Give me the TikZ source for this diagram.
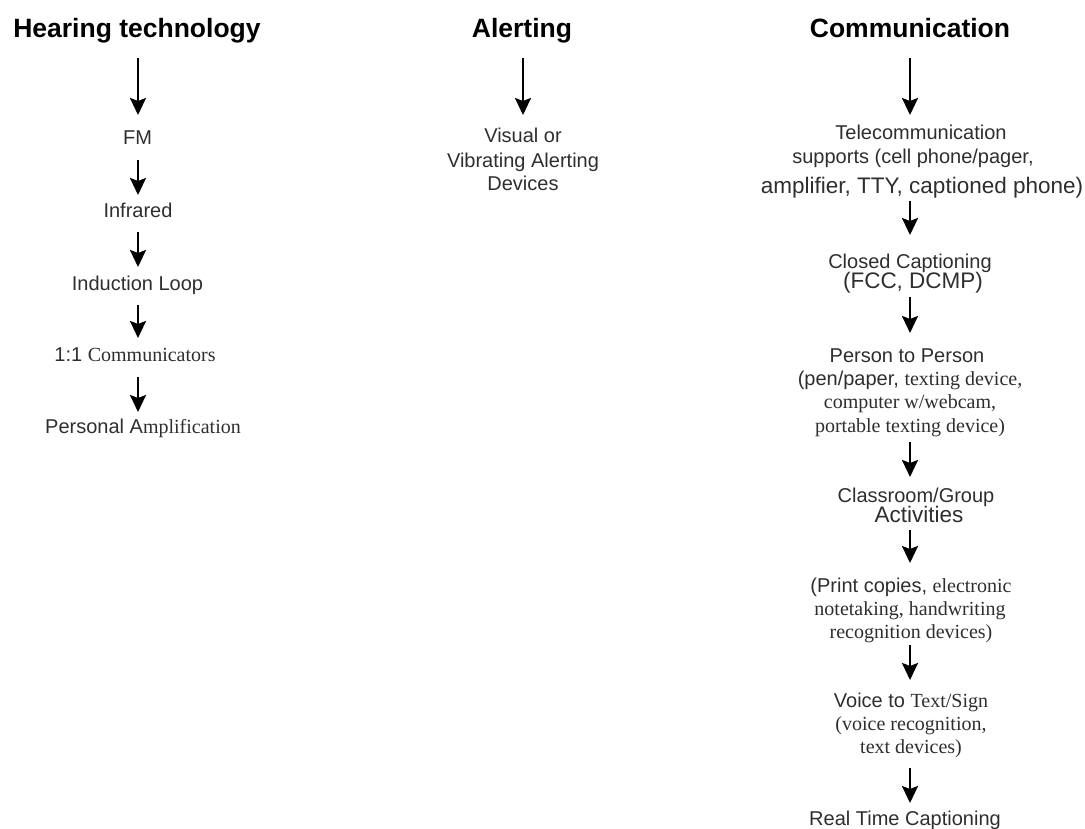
\documentclass[tikz,border=0pt]{standalone}
\usepackage{fontspec}
\setmainfont{Liberation Sans}
\newfontfamily\tms{Liberation Serif}
\usetikzlibrary{arrows.meta}
\definecolor{txt}{HTML}{2E2E2E}
\tikzset{
  ttl/.style={font=\bfseries\fontsize{26.5}{30}\selectfont, text=black, inner sep=0pt, anchor=base},
  lbl/.style={font=\fontsize{20}{24}\selectfont, text=txt, inner sep=0pt, anchor=base},
  big/.style={lbl, font=\fontsize{22.5}{26}\selectfont},
  flow/.style={draw=black, line width=2.4pt, -{Stealth[length=17pt,width=16pt,inset=3pt]}},
}
\begin{document}
\begin{tikzpicture}[x=1pt,y=-1pt]
\useasboundingbox (0,0) rectangle (1085,828);
\coordinate (L) at (138,0);
\coordinate (M) at (523,0);
\coordinate (R) at (910,0);
% left column
\node[ttl] (h0) at (137,37) {Hearing technology};
\node[lbl] (h1) at (137.5,144) {FM};
\node[lbl] (h2) at (138,217) {Infrared};
\node[lbl] (h3) at (137.5,290) {Induction Loop};
\node[lbl] (h4) at (135,361) {1:1 {\tms Communicators}};
\node[lbl] (h5) at (143,433) {Personal A{\tms mplification}};
% middle column
\node[ttl] (a0) at (522,37) {Alerting};
\node[lbl] (a1) at (523,142) {Visual or};
\node[lbl] (a2) at (523,167) {Vibrating Alerting};
\node[lbl] (a3) at (523,190) {Devices};
% right column
\node[ttl] (c0) at (910,37) {Communication};
\node[lbl] (c1a) at (921,139) {Telecommunication};
\node[lbl] (c1b) at (913,163) {supports (cell phone/pager,};
\node[big] (c1c) at (922,193) {amplifier, TTY, captioned phone)};
\node[lbl] (c2a) at (910,268) {Closed Captioning};
\node[big] (c2b) at (913,288) {(FCC, DCMP)};
\node[lbl] (c3a) at (907,362) {Person to Person};
\node[lbl] (c3b) at (910,385) {(pen/paper, {\tms texting device,}};
\node[lbl] (c3c) at (910,408) {\tms computer w/webcam,};
\node[lbl] (c3d) at (910,432) {\tms portable texting device)};
\node[lbl] (c4a) at (916,502) {Classroom/Group};
\node[big] (c4b) at (919,522) {Activities};
\node[lbl] (c5a) at (911,592) {(Print copies, {\tms electronic}};
\node[lbl] (c5b) at (910,615) {\tms notetaking, handwriting};
\node[lbl] (c5c) at (911,638) {\tms recognition devices)};
\node[lbl] (c6a) at (911,707) {Voice to {\tms Text/Sign}};
\node[lbl] (c6b) at (911,730) {\tms (voice recognition,};
\node[lbl] (c6c) at (911,753) {\tms text devices)};
\node[lbl] (c7) at (905,825) {Real Time Captioning};
% arrows left
\draw[flow] ([yshift=-21pt]h0.base -| L) -- ([yshift=29pt]h1.base -| L);
\draw[flow] ([yshift=-16pt]h1.base -| L) -- ([yshift=22pt]h2.base -| L);
\draw[flow] ([yshift=-15pt]h2.base -| L) -- ([yshift=23pt]h3.base -| L);
\draw[flow] ([yshift=-15pt]h3.base -| L) -- ([yshift=23pt]h4.base -| L);
\draw[flow] ([yshift=-16pt]h4.base -| L) -- ([yshift=21pt]h5.base -| L);
% arrow middle
\draw[flow] ([yshift=-21pt]a0.base -| M) -- ([yshift=27pt]a1.base -| M);
% arrows right
\draw[flow] ([yshift=-21pt]c0.base -| R) -- ([yshift=24pt]c1a.base -| R);
\draw[flow] ([yshift=-8pt]c1c.base -| R) -- ([yshift=33pt]c2a.base -| R);
\draw[flow] ([yshift=-9pt]c2b.base -| R) -- ([yshift=29pt]c3a.base -| R);
\draw[flow] ([yshift=-10pt]c3d.base -| R) -- ([yshift=25pt]c4a.base -| R);
\draw[flow] ([yshift=-8pt]c4b.base -| R) -- ([yshift=29pt]c5a.base -| R);
\draw[flow] ([yshift=-7pt]c5c.base -| R) -- ([yshift=27pt]c6a.base -| R);
\draw[flow] ([yshift=-15pt]c6c.base -| R) -- ([yshift=22pt]c7.base -| R);
\end{tikzpicture}
\end{document}
